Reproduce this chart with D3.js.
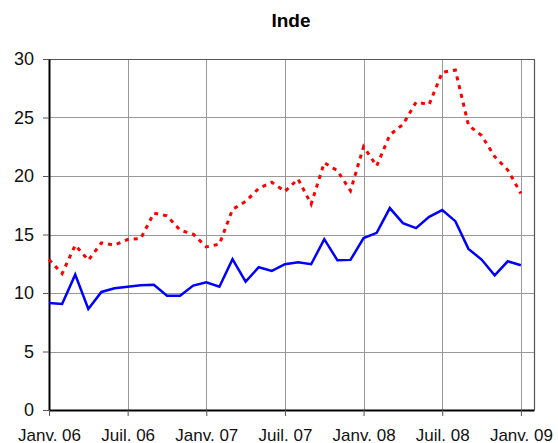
<!DOCTYPE html>
<html>
<head>
<meta charset="utf-8">
<script src="https://cdn.jsdelivr.net/npm/d3@7"></script>
<style>
body { margin: 0; background: #fff; }
text { font-family: "Liberation Sans", Arial, sans-serif; }
</style>
</head>
<body>
<svg></svg>
<script>
// data: monthly, Janv. 06 -> Janv. 09
var title = "Inde";
var tickLabels = ["Janv. 06", "Juil. 06", "Janv. 07", "Juil. 07", "Janv. 08", "Juil. 08", "Janv. 09"];
var redSeries = [12.86, 11.66, 14.09, 12.8, 14.29, 14.09, 14.57, 14.66, 16.83, 16.6, 15.37, 15.03,
    13.94, 14.17, 17.14, 17.83, 18.94, 19.46, 18.68, 19.74, 17.6, 21.14, 20.46, 18.74,
    22.51, 20.86, 23.51, 24.4, 26.31, 26.11, 28.86, 29.06, 24.34, 23.46, 21.66, 20.51, 18.51];
var blueSeries = [9.14, 9.06, 11.57, 8.63, 10.09, 10.4, 10.54, 10.66, 10.71, 9.77, 9.77, 10.63,
    10.91, 10.54, 12.89, 10.97, 12.2, 11.89, 12.46, 12.63, 12.46, 14.6, 12.8, 12.83,
    14.69, 15.14, 17.26, 15.97, 15.54, 16.51, 17.09, 16.14, 13.77, 12.86, 11.51, 12.71, 12.37];
var yTicks = [0, 5, 10, 15, 20, 25, 30];

var svgWidth = 558, svgHeight = 443;
var svg = d3.select('svg')
.attr('width', svgWidth)
.attr('height', svgHeight);

// plot area
var plotLeft = 49, plotRight = 534, plotTop = 59, plotBottom = 410;

var x = d3.scaleLinear().domain([0, 37]).range([plotLeft, plotRight]);
var y = d3.scaleLinear().domain([0, 30]).range([plotBottom, plotTop]);

// grid
svg.append("g").selectAll("line")
.data(yTicks.slice(1))
.enter().append("line")
.attr("x1", plotLeft).attr("x2", plotRight)
.attr("y1", function (d) { return Math.round(y(d)) + 0.5; })
.attr("y2", function (d) { return Math.round(y(d)) + 0.5; })
.attr("stroke", "#999").attr("stroke-width", 1);

svg.append("g").selectAll("line")
.data(tickLabels.slice(1))
.enter().append("line")
.attr("x1", function (d, i) { return Math.round(x((i + 1) * 6)) + 0.5; })
.attr("x2", function (d, i) { return Math.round(x((i + 1) * 6)) + 0.5; })
.attr("y1", plotTop).attr("y2", plotBottom)
.attr("stroke", "#999").attr("stroke-width", 1);

// frame top / right
svg.append("path")
.attr("d", "M" + plotLeft + "," + (plotTop + 0.5) + "H" + (plotRight + 0.5) + "V" + plotBottom)
.attr("fill", "none").attr("stroke", "#555").attr("stroke-width", 1.2);

// axes
var yAxis = d3.axisLeft(y).tickValues(yTicks).tickSize(6).tickPadding(9).tickSizeOuter(0);
var gy = svg.append("g").attr("transform", "translate(" + plotLeft + ",0)").call(yAxis);
gy.select(".domain").attr("stroke", "#000").attr("stroke-width", 2);
gy.selectAll(".tick line").attr("stroke", "#555");
gy.selectAll("text").attr("font-size", "18px").attr("fill", "#111")
.style("font-family", "'Liberation Sans', Arial, sans-serif");

var xAxis = d3.axisBottom(x)
.tickValues(d3.range(0, 37, 6))
.tickFormat(function (d) { return tickLabels[d / 6]; })
.tickSize(6).tickPadding(13).tickSizeOuter(0);
var gx = svg.append("g").attr("transform", "translate(0," + plotBottom + ")").call(xAxis);
gx.select(".domain").attr("stroke", "#000").attr("stroke-width", 2);
gx.selectAll(".tick line").attr("stroke", "#555");
gx.selectAll("text").attr("font-size", "17px").attr("fill", "#111")
.style("font-family", "'Liberation Sans', Arial, sans-serif");

// lines
var line = d3.line()
.x(function (d, i) { return x(i); })
.y(function (d) { return y(d); });

svg.append("path")
.datum(redSeries)
.attr("d", line)
.attr("fill", "none")
.attr("stroke", "#ff0000")
.attr("stroke-width", 3)
.attr("stroke-dasharray", "4,5");

svg.append("path")
.datum(blueSeries)
.attr("d", line)
.attr("fill", "none")
.attr("stroke", "#0000ff")
.attr("stroke-width", 2.5);

// title
svg.append("text")
.attr("x", 291).attr("y", 27)
.attr("text-anchor", "middle")
.attr("font-size", "19px")
.attr("font-weight", "bold")
.text(title);
</script>
</body>
</html>
